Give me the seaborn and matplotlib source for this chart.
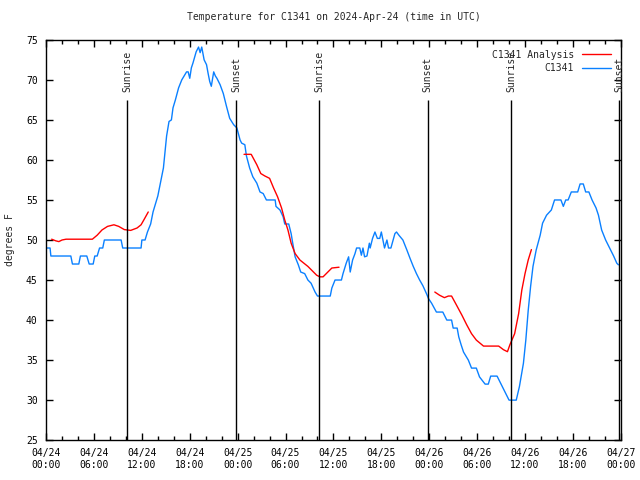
import matplotlib

matplotlib.use("Agg")
import matplotlib.pyplot as plt
import pandas as pd
import seaborn as sns
from matplotlib.lines import Line2D
from matplotlib.ticker import MultipleLocator

# hours since 2024-04-24 00:00 UTC
obs_hours = [
    0.0, 0.5, 0.6, 3.1, 3.3, 4.1, 4.3, 5.1, 5.4, 5.9, 6.1, 6.4, 6.7, 7.1, 7.3, 9.4, 9.6, 11.9,
    12.0, 12.4, 12.7, 13.1, 13.4, 13.7, 14.0, 14.3, 14.7, 14.9, 15.1, 15.4, 15.7, 15.9, 16.2,
    16.6, 17.0, 17.3, 17.6, 17.8, 18.0, 18.2, 18.4, 18.8, 19.1, 19.3, 19.5, 19.8, 20.1, 20.3,
    20.5, 20.7, 21.0, 21.2, 21.4, 21.8, 22.2, 22.6, 23.0, 23.5, 23.9, 24.3, 24.5, 24.9, 25.1,
    25.5, 25.9, 26.4, 26.8, 27.2, 27.6, 28.7, 28.8, 29.3, 29.7, 29.9, 30.4, 30.7, 30.9, 31.2,
    31.6, 31.9, 32.4, 32.8, 33.2, 33.7, 34.0, 35.6, 35.8, 36.2, 37.0, 37.2, 37.6, 37.9, 38.1,
    38.4, 38.7, 38.9, 39.3, 39.5, 39.7, 39.9, 40.2, 40.5, 40.6, 40.9, 41.2, 41.5, 41.8, 42.0,
    42.4, 42.7, 42.9, 43.2, 43.7, 43.9, 44.2, 44.7, 45.2, 45.6, 46.0, 46.4, 46.8, 47.2, 47.7,
    47.9, 48.3, 48.9, 49.7, 50.2, 50.8, 51.0, 51.5, 51.7, 52.0, 52.3, 52.9, 53.3, 53.9, 54.3,
    55.0, 55.4, 55.7, 56.5, 57.0, 57.5, 58.0, 58.9, 59.3, 59.8, 60.1, 60.4, 60.7, 61.0, 61.4,
    61.9, 62.2, 62.7, 63.3, 63.7, 64.5, 64.8, 65.1, 65.4, 65.8, 66.6, 66.9, 67.3, 67.6, 68.0,
    68.4, 68.9, 69.2, 69.6, 70.1, 70.6, 71.1, 71.5, 71.7,
]
obs_temps = [
    49, 49, 48, 48, 47, 47, 48, 48, 47, 47, 48, 48, 49, 49, 50, 50, 49, 49,
    50, 50, 51, 52, 53.5, 54.5, 55.5, 57, 59, 61, 63, 64.8, 65, 66.5, 67.5,
    69, 70, 70.5, 71, 71, 70.2, 71.5, 72.1, 73.5, 74.1, 73.4, 74.1, 72.5, 71.9, 70.8,
    69.8, 69.2, 71, 70.5, 70.2, 69.4, 68.3, 66.7, 65.2, 64.4, 64, 62.5, 62.1, 61.9, 60.5,
    59, 57.9, 57.1, 56, 55.8, 55, 55, 54.2, 53.75, 52.9, 52, 52, 50.8, 49.6, 47.9,
    46.9, 46, 45.8, 45, 44.6, 43.5, 43, 43, 44, 45, 45, 45.8, 47.1, 47.9, 46,
    47.5, 48.3, 49, 49, 48.1, 49, 47.9, 48, 49.6, 49, 50.2, 51, 50.2, 50.2, 51,
    49, 50, 49, 49, 50.8, 51, 50.6, 50, 48.75, 47.7, 46.7, 45.8, 45, 44.3, 43.2,
    42.7, 42.1, 41, 41, 40, 40, 39, 39, 37.9, 36.9, 36, 35, 34, 34, 32.9,
    32, 32, 33, 33, 32, 31, 30, 30, 31.7, 34.6, 37.5, 41.2, 44.2, 46.7, 48.75,
    50.6, 52.1, 53.1, 53.75, 55, 55, 54.2, 55, 55, 56, 56, 57, 57, 56, 56,
    55, 54, 53.1, 51.25, 50, 49, 48, 47.1, 46.9,
]

# analysis, three separate runs
ana_segment = [1] * 17 + [2] * 20 + [3] * 18
ana_hours = [
    0.7, 1.2, 1.6, 2.0, 2.5, 5.8, 6.4, 7.0, 7.7, 8.5, 9.1, 9.8, 10.6, 11.4, 11.9, 12.3, 12.8,
    24.8, 25.7, 26.4, 26.9, 27.4, 28.0, 28.5, 29.0, 29.5, 29.9, 30.3, 30.7, 31.2, 31.8, 32.8,
    33.9, 34.3, 34.7, 35.8, 36.7,
    48.7, 49.3, 49.9, 50.4, 50.8, 51.4, 52.1, 52.7, 53.3, 53.9, 54.8, 56.7, 57.3, 57.8, 58.1,
    58.7, 59.2, 59.6,
]
ana_temps = [
    50.1, 49.9, 49.8, 50, 50.1, 50.1, 50.6, 51.25, 51.7, 51.9, 51.7, 51.3, 51.2, 51.5, 51.9,
    52.6, 53.5,
    60.7, 60.7, 59.4, 58.3, 58, 57.7, 56.5, 55.4, 54, 52.5, 51.25, 49.6, 48.3, 47.5, 46.7,
    45.6, 45.4, 45.4, 46.5, 46.6,
    43.5, 43.1, 42.8, 43, 43, 41.9, 40.6, 39.4, 38.3, 37.5, 36.75, 36.75, 36.3, 36.05, 36.9,
    38.3, 40.8, 43.75,
]
ana_segment += [3, 3, 3]
ana_hours += [60.0, 60.4, 60.8]
ana_temps += [45.8, 47.5, 48.8]

sun_hours = [10.14, 23.79, 34.18, 47.83, 58.23, 71.8]
sun_labels = ["Sunrise", "Sunset", "Sunrise", "Sunset", "Sunrise", "Sunset"]

tick_hours = list(range(0, 73, 6))
tick_labels = [
    "04/24\n00:00", "04/24\n06:00", "04/24\n12:00", "04/24\n18:00",
    "04/25\n00:00", "04/25\n06:00", "04/25\n12:00", "04/25\n18:00",
    "04/26\n00:00", "04/26\n06:00", "04/26\n12:00", "04/26\n18:00",
    "04/27\n00:00",
]

RED = "#ff0000"
BLUE = "#0a80ff"

sns.set_theme(style="ticks")
plt.rcParams["font.family"] = ["DejaVu Sans Mono"]
plt.rcParams["font.size"] = 7

obs = pd.DataFrame({"hour": obs_hours, "temp": obs_temps})
ana = pd.DataFrame({"hour": ana_hours, "temp": ana_temps, "seg": ana_segment})

fig, ax = plt.subplots(figsize=(6.4, 4.8), dpi=100)
fig.subplots_adjust(left=0.072, right=0.970, top=0.917, bottom=0.083)

sns.lineplot(data=obs, x="hour", y="temp", color=BLUE, lw=1.0, ax=ax, sort=False)
sns.lineplot(data=ana, x="hour", y="temp", units="seg", estimator=None, color=RED,
             lw=1.0, ax=ax, sort=False)

for h, lab in zip(sun_hours, sun_labels):
    ax.vlines(h, 25, 67.5, color="black", lw=1.0)
    ax.text(h, 68.5, lab, rotation=90, ha="center", va="bottom", fontsize=7, clip_on=False)

ax.set_xlim(0, 72)
ax.set_ylim(25, 75)
ax.set_xticks(tick_hours)
ax.set_xticklabels(tick_labels)
ax.xaxis.set_minor_locator(MultipleLocator(2))
ax.yaxis.set_major_locator(MultipleLocator(5))
ax.tick_params(which="both", direction="in", top=True, right=True, labelsize=7, width=1,
               colors="black", pad=6)
ax.tick_params(which="major", length=5)
ax.tick_params(which="minor", length=3)
for s in ax.spines.values():
    s.set_color("black")
    s.set_linewidth(1.0)

ax.set_xlabel("")
ax.set_ylabel("degrees F", fontsize=7, labelpad=8)
ax.set_title("Temperature for C1341 on 2024-Apr-24 (time in UTC)", fontsize=7, pad=14)

handles = [Line2D([], [], color=RED, lw=1.0), Line2D([], [], color=BLUE, lw=1.0)]
ax.legend(handles, ["C1341 Analysis", "C1341"], loc="upper right", frameon=False,
          markerfirst=False, fontsize=7, handlelength=3.0, handletextpad=0.8,
          labelspacing=0.35, borderaxespad=0.6)

fig.savefig("out.png", dpi=100)
